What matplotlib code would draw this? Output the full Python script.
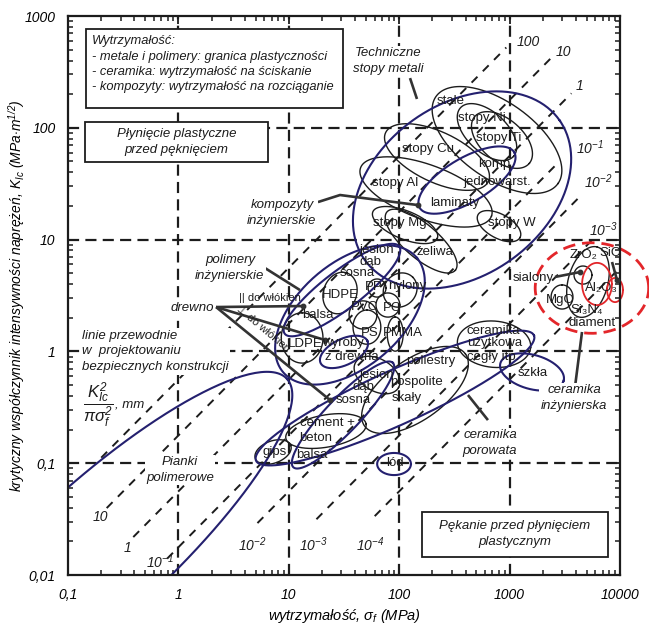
import numpy as np
import matplotlib
matplotlib.use("Agg")
import matplotlib.pyplot as plt
from matplotlib.patches import Rectangle

plt.rcParams['font.family'] = ['Liberation Sans', 'DejaVu Sans']
plt.rcParams['mathtext.fontset'] = 'custom'
plt.rcParams['mathtext.rm'] = 'Liberation Sans:italic'
plt.rcParams['mathtext.it'] = 'Liberation Sans:italic'
plt.rcParams['mathtext.sf'] = 'Liberation Sans:italic'
plt.rcParams['lines.scale_dashes'] = False

NAVY = '#24206f'
RED = '#e3262a'
INK = '#1c1c1c'

# ---- material bubbles: centre strength (MPa), centre toughness (MPa m^1/2),
#      semi-axes (decades), tilt (deg)
black_names = ['stale', 'stopy Ni', 'stopy Ti', 'stopy Cu', 'stopy Al', 'stopy Mg',
               'zeliwa', 'stopy W', 'HDPE', 'PP', 'nylony', 'PVC', 'PC', 'PS', 'PMMA',
               'LDPE', 'drewno poprz.', 'poliestry/skaly', 'ceramika uzytkowa', 'cement',
               'gips', 'ZrO2', 'sialony', 'MgO']
black_sigma = [769, 624, 853, 220, 175, 113, 158, 802, 29.1, 63, 102, 47, 79, 51, 92,
               13.2, 63, 139, 723, 21.7, 7.2, 5130, 4620, 2985]
black_k = [77.8, 91.6, 77.8, 54.8, 26.7, 13.5, 9.7, 13.2, 3.33, 3.69, 3.54, 2.12, 2.6,
           1.65, 1.43, 1.32, 0.615, 0.452, 1.16, 0.194, 0.126, 4.18, 4.82, 3.07]
black_a = [0.676, 0.324, 0.324, 0.514, 0.631, 0.315, 0.405, 0.216, 0.19, 0.081, 0.162,
           0.126, 0.108, 0.153, 0.153, 0.225, 0.225, 0.559, 0.333, 0.369, 0.171, 0.324,
           0.081, 0.108]
black_b = [0.342, 0.180, 0.189, 0.225, 0.243, 0.126, 0.153, 0.108, 0.15, 0.081, 0.144,
           0.126, 0.108, 0.126, 0.072, 0.189, 0.144, 0.270, 0.207, 0.144, 0.099, 0.180,
           0.081, 0.099]
black_tilt = [-35, -42, -40, -25, -20, -22, -40, -28, 70, 0, 45, 0, 0, 90, 90, 90, -30,
              35, -5, 10, 20, 75, 0, 90]

# family envelopes
navy_names = ['metale', 'laminaty', 'polimery', 'drewno wzdl.', 'wyroby z drewna',
              'drewno poprz.', 'ceramika porowata', 'szkla', 'lod', 'pianki']
navy_sigma = [371, 411, 35.8, 30.3, 31.6, 31, 91.6, 1596, 89.8, 0.176]
navy_k = [27.8, 34.1, 2.12, 3.54, 0.99, 0.27, 0.383, 0.655, 0.0984, 0.0154]
navy_a = [1.081, 0.495, 0.793, 0.649, 0.234, 0.649, 1.378, 0.297, 0.153, 2.34]
navy_b = [0.766, 0.198, 0.468, 0.171, 0.117, 0.153, 0.243, 0.153, 0.099, 0.61]
navy_tilt = [35, 30, 40, 37, 25, 46, 24, -15, 0, 42]

# engineering ceramics
red_sigma = [5570, 6190, 9020]
red_k = [3.69, 4.01, 3.54]
red_a = [0.514, 0.135, 0.072]
red_b = [0.405, 0.189, 0.108]
red_tilt = [0, 0, 0]
red_dashed = [True, False, False]

# design guide lines K^2 / (pi sigma^2) = C  [mm]
guide_c = [100, 10, 1, 0.1, 0.01, 0.001, 0.0001]
guide_sigma_lo = [0.2, 0.224, 0.39, 0.79, 5.2, 17.8, 60]
guide_sigma_hi = [933, 2400, 3630, 2820, 4470, 5620, 10000]

x_ticks = [0.1, 1, 10, 100, 1000, 10000]
x_ticklabels = ['0,1', '1', '10', '100', '1000', '10000']
y_ticks = [0.01, 0.1, 1, 10, 100, 1000]
y_ticklabels = ['0,01', '0,1', '1', '10', '100', '1000']

fig = plt.figure(figsize=(6.49, 6.31), dpi=100)
ax = fig.add_axes([0.1048, 0.0887, 0.8505, 0.8859])
ax.set_xscale('log')
ax.set_yscale('log')
ax.set_xlim(0.1, 10000)
ax.set_ylim(0.01, 1000)


def L(u, v):
    return 10 ** u, 10 ** v


def bubble(sig, k, a, b, tilt, **kw):
    t = np.linspace(0, 2 * np.pi, 240)
    th = np.radians(tilt)
    x = a * np.cos(t)
    y = b * np.sin(t)
    u = np.log10(sig) + x * np.cos(th) - y * np.sin(th)
    v = np.log10(k) + x * np.sin(th) + y * np.cos(th)
    ax.plot(10 ** u, 10 ** v, **kw)


# decade grid
for xv in x_ticks[1:-1]:
    ax.axvline(xv, color=INK, lw=1.6, dashes=(8, 4.5), zorder=1)
for yv in y_ticks[1:-1]:
    ax.axhline(yv, color=INK, lw=1.6, dashes=(8, 4.5), zorder=1)

# guide lines
for c, s0, s1 in zip(guide_c, guide_sigma_lo, guide_sigma_hi):
    s = np.array([s0, s1])
    ax.plot(s, s * np.sqrt(np.pi * c / 1000.0), color=INK, lw=1.4,
            dashes=(6, 5.5), zorder=1)

for s, k, a, b, t in zip(black_sigma, black_k, black_a, black_b, black_tilt):
    bubble(s, k, a, b, t, color=INK, lw=1.0, zorder=2)
for s, k, a, b, t in zip(navy_sigma, navy_k, navy_a, navy_b, navy_tilt):
    bubble(s, k, a, b, t, color=NAVY, lw=1.5, zorder=2)
for s, k, a, b, t, d in zip(red_sigma, red_k, red_a, red_b, red_tilt, red_dashed):
    if d:
        bubble(s, k, a, b, t, color=RED, lw=2.0, dashes=(9, 5), zorder=2, clip_on=False)
    else:
        bubble(s, k, a, b, t, color=RED, lw=1.3, zorder=2, clip_on=False)

# pointer lines
pointers = [
    ([(2.098, 2.445), (2.161, 2.258)], False),
    ([(1.264, 1.336), (1.464, 1.399), (2.170, 1.309)], True),
    ([(0.784, 0.746), (1.101, 0.549)], False),
    ([(0.341, 0.397), (1.129, 0.406)], True),
    ([(0.341, 0.397), (1.328, 0.102)], True),
    ([(0.341, 0.397), (1.373, -0.435)], True),
    ([(2.623, -0.390), (2.804, -0.614)], False),
    ([(3.656, 0.174), (3.583, -0.390)], False),
    ([(3.411, 0.666), (3.638, 0.710)], True),
    ([(3.928, 0.800), (3.973, 0.639)], True),
]
for pts, dot in pointers:
    xs = [10 ** p[0] for p in pts]
    ys = [10 ** p[1] for p in pts]
    ax.plot(xs, ys, color='#333333', lw=1.9, zorder=3, solid_capstyle='butt')
    if dot:
        ax.plot(xs[-1], ys[-1], 'o', color='#333333', ms=3.2, zorder=3)

# material labels
mat = dict(fontsize=9.5, color=INK, ha='center', va='center', zorder=4)
mat_labels = [
    ('stale', 2.469, 2.240), ('stopy Ni', 2.750, 2.088), ('stopy Ti', 2.904, 1.909),
    ('stopy Cu', 2.261, 1.810), ('komp.', 2.877, 1.676), ('jednowarst.', 2.886, 1.515),
    ('stopy Al', 1.962, 1.506), ('laminaty', 2.505, 1.327), ('stopy Mg', 2.007, 1.148),
    ('stopy W', 3.022, 1.148), ('żeliwa', 2.324, 0.889),
    ('jesion', 1.799, 0.907), ('dąb', 1.736, 0.800), ('sosna', 1.618, 0.701),
    ('HDPE', 1.464, 0.504), ('PP', 1.772, 0.576), ('nylony', 2.071, 0.585),
    ('PVC', 1.690, 0.397), ('PC', 1.935, 0.388), ('balsa', 1.264, 0.326),
    ('PS', 1.736, 0.164), ('PMMA', 2.034, 0.164), ('LDPE', 1.147, 0.066),
    ('wyroby', 1.491, 0.075), ('z drewna', 1.572, -0.050),
    ('jesion', 1.799, -0.211), ('dąb', 1.672, -0.318), ('sosna', 1.582, -0.435),
    ('poliestry', 2.288, -0.086), ('pospolite', 2.161, -0.274), ('skały', 2.071, -0.417),
    ('ceramika', 2.850, 0.182), ('użytkowa', 2.868, 0.075), ('cegły itp.', 2.850, -0.050),
    ('szkła', 3.212, -0.193), ('cement +', 1.346, -0.640), ('beton', 1.246, -0.775),
    ('balsa', 1.210, -0.927), ('gips', 0.875, -0.900), ('lód', 1.962, -0.998),
    ('ZrO₂', 3.674, 0.862), ('SiC', 3.909, 0.880), ('sialony', 3.212, 0.657),
    ('Al₂O₃', 3.828, 0.567), ('MgO', 3.457, 0.460), ('Si₃N₄', 3.701, 0.370),
    ('diament', 3.746, 0.254),
]
for txt, u, v in mat_labels:
    ax.text(*L(u, v), txt, **mat)

# family labels
wb = dict(facecolor='white', edgecolor='none', pad=1.0)
fam = dict(fontsize=9.5, style='italic', color=INK, ha='center', va='center',
           linespacing=1.36, zorder=4, bbox=wb)
ax.text(*L(1.899, 2.597), 'Techniczne\nstopy metali', **fam)
ax.text(*L(0.938, 1.238), 'kompozyty\ninżynierskie', **fam)
ax.text(*L(0.467, 0.746), 'polimery\ninżynierskie', **fam)
ax.text(*L(0.123, 0.388), 'drewno', **fam)
ax.text(*L(0.014, -1.061), 'Pianki\npolimerowe', **fam)
ax.text(*L(2.822, -0.819), 'ceramika\nporowata', **fam)
ax.text(*L(3.583, -0.417), 'ceramika\ninżynierska', **fam)
ax.text(*L(-0.873, 0.000), 'linie przewodnie\nw  projektowaniu\nbezpiecznych konstrukcji',
        fontsize=9.5, style='italic', color=INK, ha='left', va='center',
        linespacing=1.42, zorder=4, bbox=wb)
ax.text(*L(-0.728, -0.479), r'$\dfrac{K^2_{Ic}}{\pi\sigma^2_f}$', fontsize=12,
        color=INK, ha='center', va='center', zorder=4, bbox=wb)
ax.text(*L(-0.574, -0.479), ', mm', fontsize=9.5, style='italic', color=INK,
        ha='left', va='center', zorder=4)
ax.text(*L(0.55, 0.478), '|| do włókien', fontsize=8, color=INK, ha='left',
        va='center', zorder=4)
ax.text(*L(0.77, 0.20), '⊥ do włókien', fontsize=8, color=INK, ha='center',
        va='center', rotation=-40, zorder=4)

# guide line labels
gl = dict(fontsize=10, style='italic', color=INK, ha='center', va='center', zorder=4)
guide_label_pos = [
    ('100', 3.167, 2.767), ('10', 3.484, 2.678), ('1', 3.629, 2.374),
    ('10$^{-1}$', 3.728, 1.819), ('10$^{-2}$', 3.801, 1.515), ('10$^{-3}$', 3.846, 1.086),
    ('10', -0.710, -1.481), ('1', -0.457, -1.758), ('10$^{-1}$', -0.167, -1.884),
    ('10$^{-2}$', 0.667, -1.732), ('10$^{-3}$', 1.219, -1.732), ('10$^{-4}$', 1.736, -1.732),
]
for txt, u, v in guide_label_pos:
    ax.text(*L(u, v), txt, **gl)

# framed notes
def note_box(x0, y0, x1, y1):
    ax.add_patch(Rectangle((x0, y0), x1 - x0, y1 - y0, transform=ax.transAxes,
                           facecolor='white', edgecolor=INK, lw=1.3, zorder=5))

note_box(0.0326, 0.8354, 0.498, 0.9767)
ax.text(0.0435, 0.9655, 'Wytrzymałość:\n- metale i polimery: granica plastyczności\n'
        '- ceramika: wytrzymałość na ściskanie\n- kompozyty: wytrzymałość na rozciąganie',
        transform=ax.transAxes, fontsize=9.3, style='italic', color=INK, ha='left',
        va='top', linespacing=1.37, zorder=6)
note_box(0.0308, 0.7388, 0.3623, 0.8104)
ax.text(0.1966, 0.7746, 'Płynięcie plastyczne\nprzed pęknięciem', transform=ax.transAxes,
        fontsize=9.5, style='italic', color=INK, ha='center', va='center',
        linespacing=1.36, zorder=6)
note_box(0.6413, 0.0322, 0.9783, 0.1127)
ax.text(0.8098, 0.0733, 'Pękanie przed płynięciem\nplastycznym', transform=ax.transAxes,
        fontsize=9.5, style='italic', color=INK, ha='center', va='center',
        linespacing=1.36, zorder=6)

# axes styling
for sp in ax.spines.values():
    sp.set_linewidth(1.6)
    sp.set_color(INK)
ax.set_xticks(x_ticks)
ax.set_xticklabels(x_ticklabels)
ax.set_yticks(y_ticks)
ax.set_yticklabels(y_ticklabels)
ax.tick_params(which='both', direction='in', top=True, right=True, color=INK)
ax.tick_params(which='major', length=6, width=1.3)
ax.tick_params(which='minor', length=3.5, width=1.1)
ax.tick_params(axis='x', which='major', pad=9, labelsize=10)
ax.tick_params(axis='y', which='major', pad=9, labelsize=10)
for lab in ax.get_xticklabels() + ax.get_yticklabels():
    lab.set_fontstyle('italic')

ax.set_xlabel(r'wytrzymałość, $\sigma_f$ (MPa)', fontsize=10.5, style='italic')
ax.xaxis.set_label_coords(0.5, -0.058)
ax.set_ylabel(r'krytyczny współczynnik intensywności naprężeń, K$_{Ic}$ (MPa$\cdot$m$^{1/2}$)',
              fontsize=10, style='italic')
ax.yaxis.set_label_coords(-0.074, 0.5)

fig.savefig('out.png', dpi=100)
